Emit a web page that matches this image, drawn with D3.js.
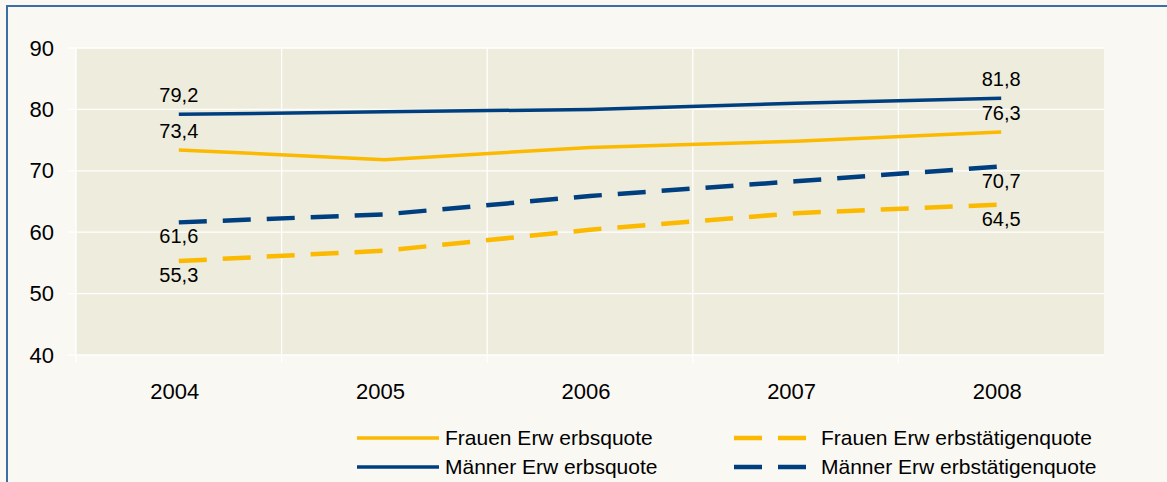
<!DOCTYPE html>
<html><head><meta charset="utf-8">
<script src="https://cdn.jsdelivr.net/npm/d3@7"></script>
<style>body{margin:0;background:#f9f8f3;}svg{display:block;font-family:"Liberation Sans",Arial,sans-serif;}</style>
</head><body><svg id="c" width="1167" height="482"></svg>
<script>
const years = ["2004","2005","2006","2007","2008"];
const yTicks = [40,50,60,70,80,90];
const seriesNames = ["Frauen Erw erbsquote","Männer Erw erbsquote","Frauen Erw erbstätigenquote","Männer Erw erbstätigenquote"];
const frauenErwerbsquote = [73.4,71.8,73.8,74.8,76.3];
const maennerErwerbsquote = [79.2,79.6,80.0,81.0,81.8];
const frauenErwerbstaetigenquote = [55.3,57.0,60.4,63.1,64.5];
const maennerErwerbstaetigenquote = [61.6,62.9,65.9,68.3,70.7];

const svg = d3.select("#c");
const W=1167,H=482;
svg.append("rect").attr("x",0).attr("y",0).attr("width",W).attr("height",H).attr("fill","#f9f8f3");
svg.append("rect").attr("x",7).attr("y",6).attr("width",1200).attr("height",520).attr("fill","none").attr("stroke","#3a6ea5").attr("stroke-width",2);

const L=76,R=1104,T=48,B=355;
const x = d3.scaleBand().domain(years).range([L,R]);
const y = d3.scaleLinear().domain([40,90]).range([B,T]);
const cx = d => x(d)+x.bandwidth()/2;

svg.append("rect").attr("x",L).attr("y",T).attr("width",R-L).attr("height",B-T).attr("fill","#eeecdc");

svg.append("g").selectAll("line").data(yTicks).join("line")
  .attr("x1",L-8).attr("x2",R).attr("y1",d=>y(d)).attr("y2",d=>y(d))
  .attr("stroke","#ffffff").attr("stroke-width",1.3);
const bounds = years.map(d=>x(d));
svg.append("g").selectAll("line").data(bounds).join("line")
  .attr("x1",d=>d).attr("x2",d=>d).attr("y1",T).attr("y2",B+8)
  .attr("stroke","#ffffff").attr("stroke-width",1.3);

const yAxis = d3.axisLeft(y).tickValues(yTicks).tickSize(0).tickPadding(0).tickFormat(d3.format("d"));
const ya = svg.append("g").attr("transform",`translate(${L-22},0)`).call(yAxis);
ya.select(".domain").remove();
ya.selectAll("text").attr("font-size",22).attr("fill","#000").attr("font-family","Liberation Sans, Arial, sans-serif");

const xAxis = d3.axisBottom(x).tickSize(0).tickPadding(0);
const xa = svg.append("g").attr("transform",`translate(-4,${B+28})`).call(xAxis);
xa.select(".domain").remove();
xa.selectAll("text").attr("font-size",22).attr("fill","#000").attr("font-family","Liberation Sans, Arial, sans-serif");

const BLUE="#003f7f", YEL="#fbb900";
const series = [
  {name:seriesNames[1], vals:maennerErwerbsquote, color:BLUE, dash:null, w:3.5, pos:"above"},
  {name:seriesNames[0], vals:frauenErwerbsquote, color:YEL, dash:null, w:3.5, pos:"above"},
  {name:seriesNames[3], vals:maennerErwerbstaetigenquote, color:BLUE, dash:"28,16", w:4.5, pos:"below"},
  {name:seriesNames[2], vals:frauenErwerbstaetigenquote, color:YEL, dash:"28,16", w:4.5, pos:"below"},
];
const line = d3.line().x((d,i)=>cx(years[i])).y(d=>y(d));
series.forEach(s=>{
  svg.append("path").attr("d",line(s.vals)).attr("fill","none").attr("stroke",s.color)
    .attr("stroke-width",s.w).attr("stroke-dasharray",s.dash).attr("stroke-linecap","butt");
  [0,4].forEach(i=>{
    svg.append("text").attr("x",cx(years[i])).attr("y",y(s.vals[i]) + (s.pos==="above"?-12:21))
      .attr("text-anchor","middle").attr("font-size",20).attr("fill","#000")
      .text(d3.format(".1f")(s.vals[i]).replace(".",","));
  });
});

const leg = [
  {name:seriesNames[0], color:YEL, dash:null, x1:357, x2:439, tx:445, y:438},
  {name:seriesNames[1], color:BLUE, dash:null, x1:357, x2:439, tx:445, y:467},
  {name:seriesNames[2], color:YEL, dash:"28,16", x1:724, x2:806, tx:821, y:438},
  {name:seriesNames[3], color:BLUE, dash:"28,16", x1:724, x2:806, tx:821, y:467},
];
leg.forEach(l=>{
  svg.append("line").attr("x1",l.x1).attr("x2",l.x2).attr("y1",l.y).attr("y2",l.y)
    .attr("stroke",l.color).attr("stroke-width",l.dash?4.5:3.5).attr("stroke-dasharray",l.dash)
    .attr("stroke-dashoffset",l.dash?34:null);
  svg.append("text").attr("x",l.tx).attr("y",l.y+7).attr("font-size",21).attr("fill","#000").text(l.name);
});
</script></body></html>
